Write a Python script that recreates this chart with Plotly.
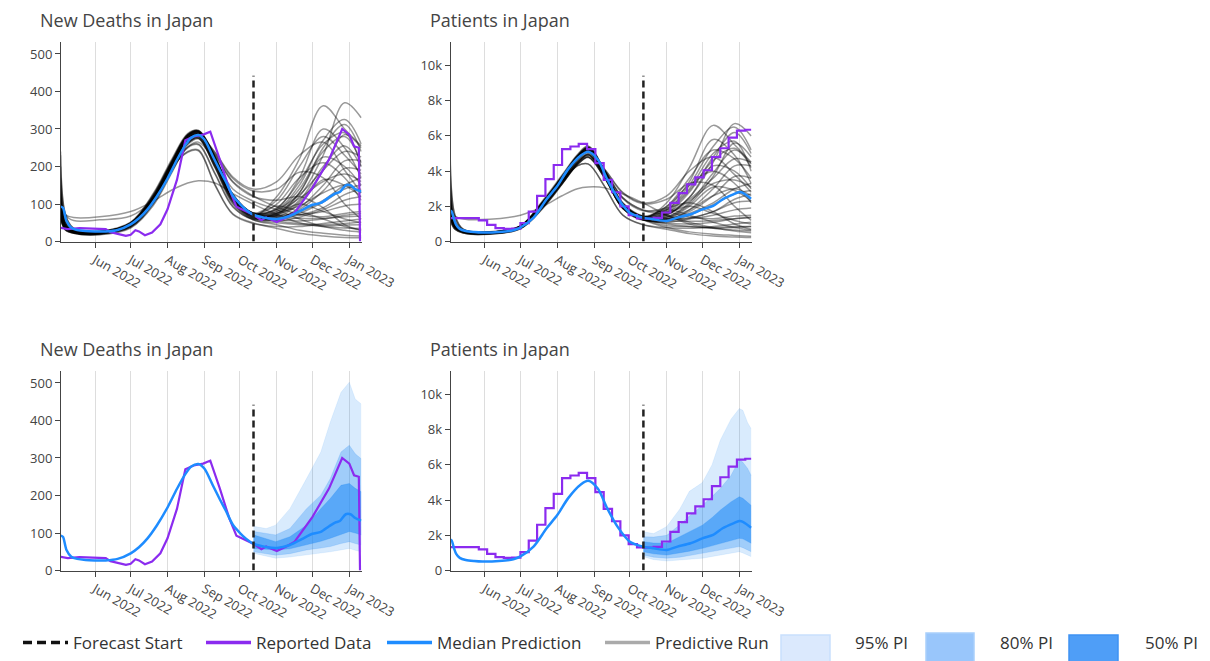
import plotly.graph_objects as go

# ---------------- axis / tick data ----------------
MONTH_TICKS = ["2022-06-01", "2022-07-01", "2022-08-01", "2022-09-01",
               "2022-10-01", "2022-11-01", "2022-12-01", "2023-01-01"]
MONTH_LABELS = ["Jun 2022", "Jul 2022", "Aug 2022", "Sep 2022",
                "Oct 2022", "Nov 2022", "Dec 2022", "Jan 2023"]
X_RANGE = ["2022-05-03 09:00", "2023-01-11 10:00"]
DEATHS_TICKS = [0, 100, 200, 300, 400, 500]
DEATHS_RANGE = [0, 533]
PATIENTS_TICKS = [0, 2000, 4000, 6000, 8000, 10000]
PATIENTS_TICK_LABELS = ["0", "2k", "4k", "6k", "8k", "10k"]
PATIENTS_RANGE = [0, 11360]

FORECAST_START = "2022-10-12 09:00"
DEATHS_FS_TOP = 442
PATIENTS_FS_TOP = 9420

TITLES = ["New Deaths in Japan", "Patients in Japan", "New Deaths in Japan", "Patients in Japan"]

# ---------------- reported data ----------------
DEATHS_REP_DATES = ["2022-05-03", "2022-05-09", "2022-05-19", "2022-06-01", "2022-06-10", "2022-06-14",
                    "2022-06-20", "2022-06-27", "2022-07-01", "2022-07-05", "2022-07-08", "2022-07-13",
                    "2022-07-19", "2022-07-26", "2022-08-01", "2022-08-09", "2022-08-16", "2022-08-23",
                    "2022-08-31", "2022-09-06", "2022-09-14", "2022-09-22", "2022-09-28", "2022-10-06",
                    "2022-10-13", "2022-10-19", "2022-10-23", "2022-11-01", "2022-11-09", "2022-11-16",
                    "2022-12-01", "2022-12-15", "2022-12-26", "2023-01-01", "2023-01-05", "2023-01-09",
                    "2023-01-10"]
DEATHS_REP = [37, 33, 36, 35, 33, 25, 21, 15, 18, 30, 27, 17, 24, 46, 86, 165, 270, 280, 285, 293,
              219, 139, 93, 81, 70, 57, 64, 52, 64, 77, 143, 219, 300, 285, 254, 250, 0]

PATIENTS_REP_DATES = ["2022-05-03", "2022-05-27", "2022-06-03", "2022-06-10", "2022-06-17", "2022-06-24",
                      "2022-07-01", "2022-07-08", "2022-07-15", "2022-07-22", "2022-07-29", "2022-08-05",
                      "2022-08-12", "2022-08-19", "2022-08-26", "2022-09-02", "2022-09-09", "2022-09-16",
                      "2022-09-23", "2022-09-30", "2022-10-07", "2022-10-14", "2022-10-21", "2022-10-28",
                      "2022-11-04", "2022-11-11", "2022-11-18", "2022-11-25", "2022-12-02", "2022-12-09",
                      "2022-12-16", "2022-12-23", "2022-12-30", "2023-01-06", "2023-01-11"]
PATIENTS_REP = [1330, 1200, 950, 760, 720, 730, 1050, 1700, 2600, 3550, 4350, 5250, 5400, 5550, 5250,
                4450, 3500, 2800, 2000, 1500, 1320, 1300, 1350, 1650, 2200, 2750, 3250, 3650, 4050,
                4800, 5300, 5900, 6300, 6350, 6350]

# ---------------- median prediction ----------------
DEATHS_MED_DATES = ["2022-05-03", "2022-05-05", "2022-05-08", "2022-05-12", "2022-05-17", "2022-05-24",
                    "2022-06-01", "2022-06-10", "2022-06-20", "2022-07-01", "2022-07-08", "2022-07-15",
                    "2022-07-23", "2022-08-01", "2022-08-09", "2022-08-16", "2022-08-21", "2022-08-27",
                    "2022-09-01", "2022-09-08", "2022-09-14", "2022-09-19", "2022-09-25", "2022-10-01",
                    "2022-10-06", "2022-10-12", "2022-10-24", "2022-11-01", "2022-11-12", "2022-11-22",
                    "2022-12-01", "2022-12-08", "2022-12-15", "2022-12-20", "2022-12-24", "2022-12-29",
                    "2023-01-02", "2023-01-06", "2023-01-11"]
DEATHS_MED = [93, 90, 55, 37, 31, 28, 27, 27, 31, 46, 62, 85, 120, 168, 218, 257, 277, 284, 272, 228,
              190, 160, 122, 100, 85, 72, 62, 60, 68, 84, 98, 103, 118, 128, 132, 150, 150, 140, 133]

PATIENTS_MED_DATES = ["2022-05-03", "2022-05-04", "2022-05-06", "2022-05-08", "2022-05-11", "2022-05-16",
                      "2022-05-23", "2022-05-30", "2022-06-13", "2022-06-25", "2022-07-01", "2022-07-12",
                      "2022-07-23", "2022-08-01", "2022-08-10", "2022-08-21", "2022-08-27", "2022-09-04",
                      "2022-09-12", "2022-09-21", "2022-10-01", "2022-10-12", "2022-10-21", "2022-11-01",
                      "2022-11-10", "2022-11-21", "2022-12-01", "2022-12-10", "2022-12-18", "2022-12-27",
                      "2023-01-01", "2023-01-04", "2023-01-11"]
PATIENTS_MED = [1640, 1740, 1300, 950, 720, 600, 540, 510, 540, 640, 800, 1360, 2400, 3150, 4100, 4900,
                5100, 4660, 3530, 2450, 1640, 1360, 1260, 1170, 1360, 1550, 1830, 2020, 2400, 2680,
                2810, 2770, 2430]

# ---------------- predictive runs ----------------
RUN_DATES = ["2022-05-03", "2022-05-07", "2022-05-14", "2022-06-05", "2022-07-01", "2022-07-20",
             "2022-08-05", "2022-08-18", "2022-08-27", "2022-09-10", "2022-09-25", "2022-10-12",
             "2022-11-01", "2022-11-20", "2022-12-10", "2022-12-28", "2023-01-11"]

DEATHS_RUNS = [
    [70, 34, 24, 22, 44, 112, 205, 275, 287, 210, 115, 68, 120, 220, 362, 300, 255],
    [90, 40, 26, 24, 48, 120, 215, 283, 293, 222, 120, 72, 75, 120, 230, 370, 330],
    [125, 48, 28, 26, 50, 124, 218, 286, 296, 228, 126, 76, 85, 150, 270, 325, 260],
    [60, 31, 22, 19, 38, 100, 190, 262, 276, 200, 106, 62, 70, 130, 250, 312, 240],
    [170, 55, 30, 25, 48, 118, 212, 284, 295, 225, 125, 76, 110, 200, 280, 230, 180],
    [90, 42, 28, 25, 45, 112, 206, 276, 286, 238, 172, 140, 160, 230, 265, 190, 130],
    [240, 75, 36, 28, 50, 116, 204, 270, 283, 222, 122, 74, 72, 110, 200, 255, 200],
    [100, 44, 27, 23, 42, 106, 196, 262, 275, 198, 103, 60, 60, 90, 150, 215, 215],
    [72, 35, 24, 21, 41, 106, 198, 270, 284, 208, 112, 66, 62, 85, 135, 195, 190],
    [88, 39, 26, 24, 49, 122, 214, 282, 292, 218, 119, 71, 68, 80, 110, 150, 170],
    [120, 47, 28, 27, 52, 128, 222, 288, 296, 226, 124, 75, 76, 95, 130, 150, 130],
    [62, 32, 22, 18, 36, 96, 186, 258, 274, 200, 108, 64, 55, 65, 85, 110, 120],
    [165, 54, 30, 25, 48, 118, 212, 283, 294, 224, 124, 75, 70, 72, 80, 95, 100],
    [75, 36, 25, 23, 43, 110, 202, 270, 281, 232, 160, 122, 92, 72, 66, 75, 80],
    [80, 38, 25, 22, 48, 118, 200, 238, 242, 150, 72, 48, 40, 40, 48, 55, 60],
    [110, 42, 27, 24, 45, 112, 198, 250, 258, 180, 92, 58, 50, 45, 42, 44, 45],
    [100, 72, 64, 66, 80, 108, 138, 156, 162, 156, 128, 100, 72, 50, 40, 36, 35],
    [140, 72, 56, 58, 68, 112, 190, 252, 265, 215, 140, 108, 85, 60, 40, 30, 25],
    [98, 43, 27, 22, 40, 104, 194, 262, 276, 196, 100, 58, 45, 30, 22, 17, 15],
    [82, 38, 25, 22, 48, 117, 199, 240, 244, 152, 74, 50, 35, 22, 15, 11, 10],
    [92, 42, 28, 25, 45, 112, 205, 275, 285, 236, 168, 135, 140, 185, 170, 100, 60],
    [76, 36, 25, 23, 43, 110, 202, 271, 282, 230, 158, 120, 110, 120, 90, 45, 30],
    [230, 72, 35, 27, 48, 112, 203, 269, 283, 221, 121, 73, 95, 80, 60, 40, 30],
    [68, 34, 24, 21, 46, 116, 210, 279, 289, 213, 116, 69, 75, 130, 225, 200, 150],
    [92, 40, 26, 23, 46, 115, 208, 279, 291, 216, 119, 71, 70, 105, 190, 285, 250],
    [130, 49, 28, 24, 47, 118, 213, 283, 294, 221, 123, 75, 90, 160, 260, 290, 200],
    [58, 31, 23, 20, 39, 102, 192, 264, 279, 204, 109, 63, 65, 100, 165, 150, 120],
    [112, 42, 27, 24, 45, 112, 198, 252, 260, 182, 94, 60, 75, 100, 80, 60, 50],
    [85, 37, 25, 22, 45, 114, 207, 278, 290, 214, 117, 70, 80, 140, 240, 280, 210],
    [95, 41, 27, 25, 50, 125, 217, 285, 294, 224, 124, 76, 88, 170, 300, 250, 170],
    [66, 33, 23, 20, 40, 104, 195, 265, 279, 203, 108, 63, 60, 75, 105, 140, 150],
    [150, 52, 30, 26, 47, 116, 209, 280, 291, 220, 121, 74, 65, 70, 90, 125, 140],
    [78, 36, 24, 21, 43, 110, 202, 272, 285, 209, 113, 67, 58, 55, 60, 70, 75],
    [105, 44, 27, 24, 46, 114, 206, 276, 288, 214, 118, 71, 80, 115, 160, 180, 160],
    [200, 64, 33, 26, 47, 114, 205, 274, 287, 215, 119, 72, 100, 170, 210, 170, 110],
    [73, 35, 24, 22, 44, 111, 203, 273, 286, 210, 114, 68, 55, 48, 45, 48, 52],
    [118, 46, 28, 25, 49, 121, 214, 283, 293, 220, 121, 73, 85, 125, 190, 240, 225],
    [86, 39, 26, 23, 45, 113, 206, 277, 289, 213, 117, 70, 66, 62, 62, 66, 68],
]

PATIENTS_RUNS = [
    [1500, 800, 560, 480, 800, 2100, 3500, 4700, 5150, 3800, 2000, 1300, 2200, 4200, 6600, 5500, 4500],
    [2000, 900, 600, 520, 870, 2250, 3680, 4850, 5300, 3900, 2080, 1360, 1500, 2500, 4500, 6700, 6000],
    [3100, 1100, 650, 540, 880, 2300, 3720, 4900, 5400, 4000, 2150, 1420, 1800, 3200, 5400, 6500, 5200],
    [1200, 700, 480, 430, 740, 1950, 3300, 4500, 4950, 3650, 1900, 1220, 1600, 2800, 4800, 6200, 5000],
    [4700, 1500, 700, 540, 880, 2250, 3650, 4850, 5350, 4000, 2200, 1450, 2000, 3600, 5200, 4700, 3600],
    [1500, 800, 560, 500, 820, 2100, 3500, 4700, 5100, 4100, 2800, 2200, 2600, 4000, 4800, 3800, 2800],
    [2500, 1000, 620, 500, 820, 2100, 3450, 4500, 4900, 3800, 2100, 1400, 1400, 2200, 3900, 5200, 4400],
    [1800, 850, 540, 460, 760, 1980, 3300, 4380, 4800, 3600, 1900, 1250, 1200, 1800, 3000, 4300, 4300],
    [1550, 810, 565, 485, 805, 2110, 3510, 4710, 5160, 3810, 2010, 1310, 1300, 1700, 2600, 3700, 3600],
    [1950, 890, 595, 510, 850, 2200, 3620, 4820, 5250, 3880, 2060, 1350, 1300, 1600, 2200, 3000, 3300],
    [3000, 1080, 645, 560, 900, 2350, 3780, 4950, 5420, 4020, 2150, 1420, 1400, 1800, 2600, 3000, 2600],
    [1250, 710, 490, 420, 730, 1900, 3250, 4450, 4950, 3660, 1930, 1240, 1100, 1300, 1700, 2200, 2300],
    [4400, 1450, 690, 535, 875, 2240, 3640, 4840, 5340, 3990, 2190, 1440, 1300, 1300, 1500, 1800, 1900],
    [1700, 900, 600, 520, 850, 2150, 3550, 4750, 5150, 4000, 2500, 1800, 1700, 1400, 1300, 1450, 1500],
    [1600, 800, 540, 480, 850, 2150, 3450, 4300, 4400, 3100, 1500, 950, 800, 750, 850, 1000, 1100],
    [1750, 840, 555, 485, 805, 2060, 3360, 4410, 4810, 3610, 1910, 1260, 900, 850, 800, 850, 850],
    [2200, 1450, 1280, 1260, 1500, 2000, 2600, 3000, 3100, 3050, 2700, 2200, 1500, 1000, 750, 650, 600],
    [1720, 910, 605, 525, 855, 2155, 3555, 4755, 5155, 4005, 2480, 1780, 1500, 1100, 800, 600, 500],
    [1820, 855, 545, 450, 760, 1960, 3280, 4360, 4780, 3580, 1880, 1230, 800, 550, 420, 350, 300],
    [1620, 805, 545, 485, 855, 2155, 3455, 4310, 4410, 3110, 1510, 960, 700, 450, 320, 260, 230],
    [1520, 805, 565, 505, 825, 2105, 3505, 4705, 5105, 4080, 2750, 2150, 2400, 3300, 3200, 2000, 1200],
    [1690, 895, 600, 515, 845, 2145, 3545, 4745, 5145, 3990, 2450, 1750, 1900, 2200, 1700, 1000, 700],
    [2400, 980, 615, 500, 820, 2100, 3450, 4500, 4900, 3790, 2090, 1390, 1800, 1500, 1100, 800, 650],
    [1480, 795, 570, 510, 850, 2200, 3620, 4800, 5220, 3850, 2030, 1320, 1500, 2500, 4300, 4000, 3000],
    [2050, 905, 605, 505, 835, 2155, 3555, 4755, 5205, 3855, 2055, 1355, 1400, 2100, 3700, 5600, 4800],
    [3200, 1120, 655, 525, 865, 2205, 3605, 4805, 5305, 3955, 2105, 1405, 1800, 3000, 5000, 5700, 4000],
    [1180, 695, 480, 430, 740, 1930, 3290, 4460, 4960, 3650, 1920, 1230, 1300, 2000, 3100, 2900, 2300],
    [1780, 845, 555, 488, 798, 2048, 3348, 4398, 4798, 3598, 1898, 1248, 1600, 2000, 1600, 1200, 1000],
    [1650, 830, 570, 495, 830, 2150, 3560, 4760, 5200, 3840, 2030, 1330, 1700, 2900, 4600, 5300, 4200],
    [2300, 950, 610, 520, 880, 2280, 3700, 4880, 5330, 3960, 2120, 1400, 1900, 3400, 5800, 4900, 3300],
    [1350, 750, 520, 450, 770, 2000, 3380, 4560, 5020, 3700, 1940, 1250, 1150, 1500, 2100, 2700, 2900],
    [3800, 1300, 680, 530, 870, 2230, 3630, 4830, 5320, 3950, 2120, 1400, 1250, 1350, 1700, 2400, 2700],
    [1580, 815, 550, 470, 790, 2060, 3420, 4620, 5080, 3760, 1980, 1290, 1050, 1000, 1100, 1300, 1400],
    [1900, 870, 590, 505, 840, 2170, 3570, 4770, 5220, 3870, 2050, 1350, 1550, 2300, 3300, 3500, 3100],
    [2700, 1050, 630, 515, 850, 2190, 3590, 4790, 5240, 3900, 2080, 1380, 2000, 3200, 4000, 3300, 2200],
    [1530, 805, 560, 490, 815, 2100, 3480, 4680, 5130, 3790, 1990, 1300, 1000, 850, 750, 800, 850],
    [2150, 930, 600, 525, 880, 2260, 3680, 4860, 5300, 3920, 2080, 1370, 1650, 2400, 3600, 4700, 4500],
    [1700, 860, 575, 495, 830, 2120, 3520, 4720, 5170, 3820, 2010, 1320, 1200, 1150, 1200, 1300, 1350],
]

# ---------------- prediction intervals ----------------
DEATHS_BAND_DATES = ["2022-10-12 09:00", "2022-10-23", "2022-10-31", "2022-11-12", "2022-11-26",
                     "2022-12-08", "2022-12-16", "2022-12-25", "2023-01-01", "2023-01-06", "2023-01-11"]
DEATHS_U95 = [118, 112, 121, 165, 245, 316, 396, 475, 502, 457, 444]
DEATHS_U80 = [104, 98, 95, 112, 165, 201, 245, 316, 334, 311, 298]
DEATHS_U50 = [95, 85, 77, 90, 121, 165, 192, 227, 232, 219, 210]
DEATHS_L50 = [59, 56, 55, 58, 68, 78, 86, 97, 104, 100, 95]
DEATHS_L80 = [50, 45, 41, 45, 55, 60, 64, 72, 77, 72, 68]
DEATHS_L95 = [46, 38, 33, 36, 41, 46, 50, 55, 59, 54, 50]

PATIENTS_BAND_DATES = ["2022-10-12 09:00", "2022-10-21", "2022-11-01", "2022-11-12", "2022-11-20",
                       "2022-12-01", "2022-12-09", "2022-12-16", "2022-12-25", "2023-01-01",
                       "2023-01-04", "2023-01-08", "2023-01-11"]
PATIENTS_U95 = [2200, 2100, 2500, 3500, 4500, 5000, 6000, 7400, 8600, 9200, 9100, 8400, 8050]
PATIENTS_U80 = [1920, 1900, 2000, 2600, 3100, 3700, 4200, 4660, 5400, 6300, 6150, 5800, 5400]
PATIENTS_U50 = [1640, 1560, 1550, 1920, 2200, 2580, 3000, 3430, 3900, 4190, 4100, 3900, 3700]
PATIENTS_L50 = [1070, 950, 880, 1000, 1100, 1260, 1400, 1550, 1700, 1830, 1800, 1650, 1550]
PATIENTS_L80 = [880, 760, 700, 760, 850, 980, 1080, 1150, 1280, 1360, 1300, 1150, 1070]
PATIENTS_L95 = [790, 620, 540, 580, 640, 700, 800, 880, 1000, 1070, 1000, 880, 790]

LEGEND_NAMES = ["Forecast Start", "Reported Data", "Median Prediction", "Predictive Run",
                "95% PI", "80% PI", "50% PI"]

# ---------------- styles ----------------
PURPLE = "#8B2BEF"
BLUE = "#1E8CFF"
RUN_COLOR = "rgba(0,0,0,0.40)"
BAND_FILLS = ["rgba(30,136,245,0.17)", "rgba(30,136,245,0.30)", "rgba(30,136,245,0.54)"]
BAND_LINES = ["rgba(30,136,245,0.10)", "rgba(30,136,245,0.18)", "rgba(30,136,245,0.30)"]
LEGEND_BOX_FILLS = ["#dbe9fd", "#99c6fb", "#4f9ef7"]
LEGEND_BOX_LINES = ["#c9e0fd", "#a9d0fc", "#3f93f4"]
DASH = "7px,4px"

fig = go.Figure()


def add_runs(xa, ya, runs):
    for r in runs:
        fig.add_trace(go.Scatter(x=RUN_DATES, y=r, mode="lines", xaxis=xa, yaxis=ya,
                                 line=dict(color=RUN_COLOR, width=1.5, shape="spline"),
                                 showlegend=False, hoverinfo="skip"))


def add_bands(xa, ya, dates, bands):
    for (lo, hi), fc, lc in zip(bands, BAND_FILLS, BAND_LINES):
        fig.add_trace(go.Scatter(x=dates, y=lo, mode="lines", xaxis=xa, yaxis=ya,
                                 line=dict(color=lc, width=0.8), showlegend=False, hoverinfo="skip"))
        fig.add_trace(go.Scatter(x=dates, y=hi, mode="lines", xaxis=xa, yaxis=ya, fill="tonexty",
                                 fillcolor=fc, line=dict(color=lc, width=0.8),
                                 showlegend=False, hoverinfo="skip"))


def add_common(xa, ya, rep_dates, rep, rep_shape, med_dates, med, fs_top):
    fig.add_trace(go.Scatter(x=rep_dates, y=rep, mode="lines", xaxis=xa, yaxis=ya,
                             line=dict(color=PURPLE, width=2.2, shape=rep_shape), showlegend=False))
    fig.add_trace(go.Scatter(x=med_dates, y=med, mode="lines", xaxis=xa, yaxis=ya,
                             line=dict(color=BLUE, width=2.5, shape="spline", smoothing=0.8),
                             showlegend=False))
    fig.add_trace(go.Scatter(x=[FORECAST_START, FORECAST_START], y=[0, fs_top], mode="lines",
                             xaxis=xa, yaxis=ya, line=dict(color="#222", width=2.5, dash=DASH),
                             showlegend=False))


add_runs("x", "y", DEATHS_RUNS)
add_common("x", "y", DEATHS_REP_DATES, DEATHS_REP, "linear", DEATHS_MED_DATES, DEATHS_MED, DEATHS_FS_TOP)
add_runs("x2", "y2", PATIENTS_RUNS)
add_common("x2", "y2", PATIENTS_REP_DATES, PATIENTS_REP, "hv", PATIENTS_MED_DATES, PATIENTS_MED,
           PATIENTS_FS_TOP)
add_bands("x3", "y3", DEATHS_BAND_DATES,
          [(DEATHS_L95, DEATHS_U95), (DEATHS_L80, DEATHS_U80), (DEATHS_L50, DEATHS_U50)])
add_common("x3", "y3", DEATHS_REP_DATES, DEATHS_REP, "linear", DEATHS_MED_DATES, DEATHS_MED, DEATHS_FS_TOP)
add_bands("x4", "y4", PATIENTS_BAND_DATES,
          [(PATIENTS_L95, PATIENTS_U95), (PATIENTS_L80, PATIENTS_U80), (PATIENTS_L50, PATIENTS_U50)])
add_common("x4", "y4", PATIENTS_REP_DATES, PATIENTS_REP, "hv", PATIENTS_MED_DATES, PATIENTS_MED,
           PATIENTS_FS_TOP)

# ---------------- legend entries (one legend per entry, placed along the bottom) ----------------
# W: page width in px; S: visible height of the figure in the window (px) used for paper fractions
W, S = 1210, 652
legend_ids = ["legend", "legend2", "legend3", "legend4", "legend5", "legend6", "legend7"]
legend_lines = [dict(color="#111", width=3.5, dash="9px,5px"), dict(color=PURPLE, width=3.5),
                dict(color=BLUE, width=3.5), dict(color="#aaaaaa", width=3.5)]
for i in range(4):
    fig.add_trace(go.Scatter(x=[None], y=[None], mode="lines", name=LEGEND_NAMES[i],
                             line=legend_lines[i], legend=legend_ids[i], showlegend=True))
for j in range(3):
    fig.add_trace(go.Scatter(x=[None], y=[None], mode="lines", name=LEGEND_NAMES[4 + j],
                             fill="toself", fillcolor="rgba(0,0,0,0)",
                             line=dict(color="rgba(0,0,0,0)", width=0),
                             legend=legend_ids[4 + j], showlegend=True))


def fy(py):
    """paper fraction for a pixel row measured from the top"""
    return 1 - py / S


# swatch boxes for the PI legend entries
box_x = [(781, 830), (926, 974), (1069, 1118)]
box_top = [637, 635, 637]
shapes = []
for (bx0, bx1), bt, fc, lc in zip(box_x, box_top, LEGEND_BOX_FILLS, LEGEND_BOX_LINES):
    shapes.append(dict(type="rect", xref="paper", yref="paper", x0=bx0 / W, x1=bx1 / W,
                       y0=-0.02, y1=fy(bt), fillcolor=fc, line=dict(color=lc, width=1.5),
                       layer="above"))

legend_text_x = [73, 256, 437, 655, 855, 1000, 1145]
legend_font = dict(family="Open Sans, sans-serif", size=17, color="#333")
legend_layout = {}
for lid, tx in zip(legend_ids, legend_text_x):
    legend_layout[lid] = dict(x=(tx - 55) / W, y=fy(645), xanchor="left", yanchor="middle",
                              orientation="h", bgcolor="rgba(0,0,0,0)", borderwidth=0,
                              itemwidth=45, font=legend_font)

# ---------------- axes ----------------
x_domains = [[61 / W, 361.7 / W], [450.7 / W, 751.7 / W]]
y_domains = [[fy(242.3), fy(41.7)], [fy(572.3), fy(371.7)]]

tick_font = dict(family="Open Sans, sans-serif", size=13, color="#444")
common_x = dict(range=X_RANGE, type="date", tickmode="array", tickvals=MONTH_TICKS, ticktext=MONTH_LABELS,
                tickangle=30, showgrid=True, gridcolor="#dddddd", gridwidth=1, showline=True,
                linecolor="#444", linewidth=1, ticks="outside", ticklen=5, tickcolor="#444",
                tickfont=tick_font, zeroline=False, automargin=False)
common_y = dict(showgrid=False, showline=True, linecolor="#444", linewidth=1, ticks="outside",
                ticklen=5, tickcolor="#444", tickfont=tick_font, zeroline=False, automargin=False)

layout_axes = {}
panel_defs = [("xaxis", "yaxis", 0, 0, "deaths"), ("xaxis2", "yaxis2", 1, 0, "patients"),
              ("xaxis3", "yaxis3", 0, 1, "deaths"), ("xaxis4", "yaxis4", 1, 1, "patients")]
for k, (xk, yk, col, row, kind) in enumerate(panel_defs):
    ax_id = "" if k == 0 else str(k + 1)
    layout_axes[xk] = dict(common_x, domain=x_domains[col], anchor="y" + ax_id)
    if kind == "deaths":
        ydef = dict(common_y, range=DEATHS_RANGE, tickmode="array", tickvals=DEATHS_TICKS)
    else:
        ydef = dict(common_y, range=PATIENTS_RANGE, tickmode="array", tickvals=PATIENTS_TICKS,
                    ticktext=PATIENTS_TICK_LABELS)
    layout_axes[yk] = dict(ydef, domain=y_domains[row], anchor="x" + ax_id)

title_pos = [(38, 20.5), (428, 20.5), (38, 350.5), (428, 350.5)]
annotations = []
for t, (px, py) in zip(TITLES, title_pos):
    annotations.append(dict(text=t, x=px / W, y=fy(py), xref="paper", yref="paper",
                            xanchor="left", yanchor="middle", showarrow=False,
                            font=dict(family="Open Sans, sans-serif", size=18, color="#444")))

# the figure fills the browser window (sized by the page, not fixed pixels)
fig.update_layout(autosize=True, margin=dict(l=0, r=0, t=0, b=0),
                  paper_bgcolor="white", plot_bgcolor="white", annotations=annotations, shapes=shapes,
                  **layout_axes, **legend_layout)

POST = ("document.documentElement.style.cssText='margin:0;padding:0;overflow:hidden;';"
        "document.body.style.cssText='margin:0;padding:0;overflow:hidden;';"
        "var gd=document.querySelector('.plotly-graph-div');"
        "gd.style.position='fixed';gd.style.left='0px';gd.style.top='0px';"
        "Plotly.Plots.resize(gd);")
fig.write_html("out.html", config={"displayModeBar": False}, post_script=POST,
               default_width="100vw", default_height="100vh")
